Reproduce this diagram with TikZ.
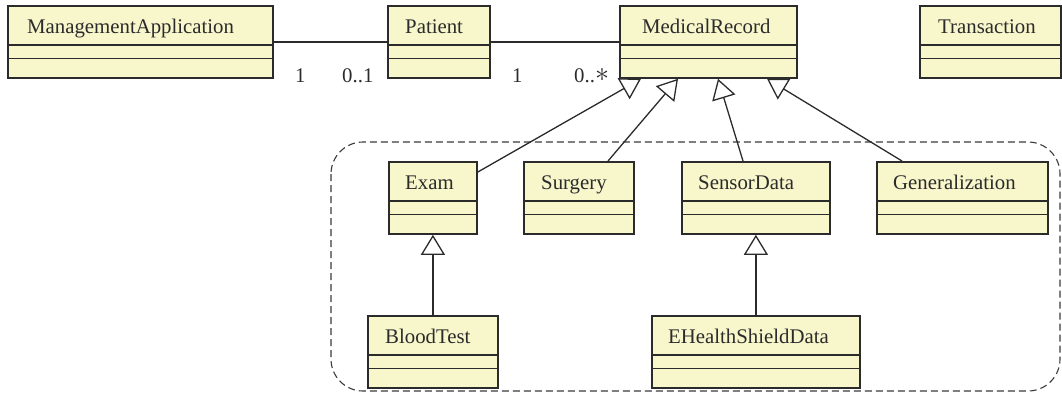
\documentclass[tikz,border=0pt]{standalone}
\usepackage{fontspec}
\setmainfont{Liberation Serif}
\usetikzlibrary{arrows.meta,calc}

\definecolor{classfill}{HTML}{F8F6CB}
\definecolor{classline}{HTML}{2B2B2B}
\definecolor{pkgline}{HTML}{3A3A3A}

\tikzset{
  classbox/.style={draw=classline, line width=1.8pt, fill=classfill,
    minimum height=72pt, inner sep=0pt, anchor=north west, rectangle,
    path picture={
      \draw[classline, line width=1.2pt]
        ([yshift=-39pt]path picture bounding box.north west) --
        ([yshift=-39pt]path picture bounding box.north east);
      \draw[classline, line width=1.2pt]
        ([yshift=-52.5pt]path picture bounding box.north west) --
        ([yshift=-52.5pt]path picture bounding box.north east);
    }},
  classname/.style={anchor=base west, inner sep=0pt, text=classline,
    font=\fontsize{20.8}{24}\selectfont},
  mult/.style={anchor=base west, inner sep=0pt, text=classline,
    font=\fontsize{20.8}{24}\selectfont},
  assoc/.style={draw=classline, line width=1.3pt},
  inherit/.style={draw=classline, line width=1.3pt,
    -{Triangle[fill=white, length=20pt, width=24pt]}},
  pkg/.style={draw=pkgline, line width=1.1pt, dash pattern=on 7pt off 4pt,
    rounded corners=32pt},
}

% \umlclass{name}{x}{y}{width}{indent}{title}
\newcommand{\umlclass}[6]{%
  \node[classbox, minimum width=#4pt] (#1) at (#2,#3) {};
  \node[classname] (#1-title) at ($(#1.north west)+(#5,28)$) {#6};
}

\begin{document}
\begin{tikzpicture}[x=1pt,y=-1pt]
  \useasboundingbox (0,0) rectangle (1062,394);

  % package frame around the record subclasses
  \draw[pkg] (331,142) rectangle (1060,391);

  % classes
  \umlclass{ma}{7}{5}{265}{20}{ManagementApplication}
  \umlclass{pat}{387}{5}{102}{18}{Patient}
  \umlclass{mr}{619}{5}{177}{23}{MedicalRecord}
  \umlclass{tr}{919}{5}{141}{19}{Transaction}
  \umlclass{exam}{388}{161}{88}{17}{Exam}
  \umlclass{surg}{523}{161}{110}{18}{Surgery}
  \umlclass{sens}{681}{161}{148}{17}{SensorData}
  \umlclass{gen}{876}{161}{171}{17}{Generalization}
  \umlclass{blood}{367}{315}{130}{18}{BloodTest}
  \umlclass{ehs}{651}{315}{208}{17}{EHealthShieldData}

  % associations
  \draw[assoc] (ma.east) -- (pat.west);
  \draw[assoc] (pat.east) -- (mr.west);
  \node[mult] (m1) at (295,82) {1};
  \node[mult] (m2) at (342,82) {0..1};
  \node[mult] (m3) at (512,82) {1};
  \node[mult] (m4) at (574,82) {0..\raisebox{0.5pt}{\scalebox{1.35}{$\ast$}}};

  % generalizations
  \draw[inherit] ($(exam.north east)+(0,11)$) -- ($(mr.south west)+(22,0)$);
  \draw[inherit] ($(surg.north west)+(85,0)$) -- ($(mr.south west)+(59,0)$);
  \draw[inherit] ($(sens.north west)+(62,0)$) -- ($(mr.south west)+(99,0)$);
  \draw[inherit] ($(gen.north west)+(26,0)$) -- ($(mr.south west)+(148,0)$);
  \draw[inherit] (blood.north) -- (blood.north |- exam.south);
  \draw[inherit] (ehs.north) -- (ehs.north |- sens.south);
\end{tikzpicture}
\end{document}
